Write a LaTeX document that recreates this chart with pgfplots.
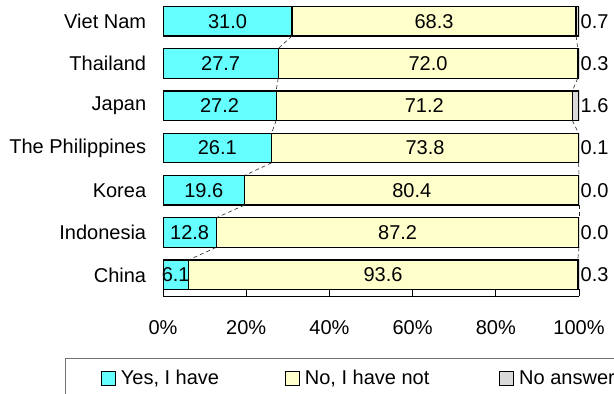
\documentclass[border=0pt]{standalone}
\usepackage{fontspec}
\setmainfont{Liberation Sans}
\usepackage{pgfplots}
\usepackage{pgfplotstable}
\pgfplotsset{compat=1.18}

\definecolor{yesfill}{RGB}{102,255,255}
\definecolor{nofill}{RGB}{255,255,204}
\definecolor{nafill}{RGB}{217,217,217}

% Share of respondents per country (percent); idx 0 is the bottom bar
\pgfplotstableread{
idx yes  no   na
0   6.1  93.6 0.3
1   12.8 87.2 0.0
2   19.6 80.4 0.0
3   26.1 73.8 0.1
4   27.2 71.2 1.6
5   27.7 72.0 0.3
6   31.0 68.3 0.7
}\survey

\pgfplotsset{
  box legend/.style={legend image code/.code={%
    \draw[##1, line width=0.8bp] (0bp,-7bp) rectangle (14bp,7bp);}},
  series line/.style={black!85, line width=0.6bp, dash pattern=on 4bp off 3bp},
  frame/.style={at={(163bp,98bp)}, anchor=south west, scale only axis,
    width=416bp, height=296bp, xmin=0, xmax=100, ymin=-0.5, ymax=6.5},
}

\begin{document}
\fontsize{20bp}{24bp}\selectfont
\begin{tikzpicture}
\begin{axis}[
  frame,
  xbar stacked, bar width=0.7,
  axis x line*=bottom, axis y line*=left,
  y axis line style={draw=none},
  ytick={0,...,6},
  yticklabels={China,Indonesia,Korea,The Philippines,Japan,Thailand,Viet Nam},
  ytick style={draw=none},
  yticklabel style={xshift=-10bp},
  xtick={0,20,...,100},
  xticklabel={\pgfmathprintnumber{\tick}\%},
  xticklabel style={yshift=-18bp},
  tick align=inside, major tick length=7bp,
  x axis line style={line width=0.8bp, black},
  xtick style={line width=0.8bp, black},
  /pgf/number format/assume math mode=true,
  legend columns=3,
  legend style={at={(-0.2356,-0.2095)}, anchor=north west,
    draw=black!55, line width=0.8bp, inner xsep=35.7bp, inner ysep=11.5bp,
    nodes={inner sep=0pt},
    /tikz/every odd column/.append style={column sep=5bp},
    /tikz/column 2/.style={column sep=66bp},
    /tikz/column 4/.style={column sep=70bp}},
  every axis plot/.append style={draw=black, line width=1.2bp},
]
\addplot[fill=yesfill, box legend] table[x=yes, y=idx] {\survey};
\addlegendentry{Yes, I have}
\addplot[fill=nofill, box legend] table[x=no, y=idx] {\survey};
\addlegendentry{No, I have not}
\addplot[fill=nafill, box legend] table[x=na, y=idx] {\survey};
\addlegendentry{No answer}
\end{axis}

% series lines and value labels
\begin{axis}[frame, hide axis, clip=false]
\addplot[series line] coordinates {(31.0,5.65) (27.7,5.35)};
\addplot[series line] coordinates {(27.7,4.65) (27.2,4.35)};
\addplot[series line] coordinates {(27.2,3.65) (26.1,3.35)};
\addplot[series line] coordinates {(26.1,2.65) (19.6,2.35)};
\addplot[series line] coordinates {(19.6,1.65) (12.8,1.35)};
\addplot[series line] coordinates {(12.8,0.65) (6.1,0.35)};
\addplot[series line] coordinates {(99.3,5.65) (99.7,5.35)};
\addplot[series line] coordinates {(99.7,4.65) (98.4,4.35)};
\addplot[series line] coordinates {(98.4,3.65) (99.9,3.35)};
\addplot[series line] coordinates {(99.9,2.65) (100.0,2.35)};
\addplot[series line] coordinates {(100.0,1.65) (100.0,1.35)};
\addplot[series line] coordinates {(100.0,0.65) (99.7,0.35)};

\addplot[draw=none, nodes near coords, point meta=explicit symbolic,
  nodes near coords style={anchor=center}]
  table[x expr=\thisrow{yes}/2, y=idx, meta=yes] {\survey};
\addplot[draw=none, nodes near coords, point meta=explicit symbolic,
  nodes near coords style={anchor=center}]
  table[x expr=\thisrow{yes}+\thisrow{no}/2, y=idx, meta=no] {\survey};
\addplot[draw=none, nodes near coords, point meta=explicit symbolic,
  nodes near coords style={anchor=west, inner sep=1.5bp}]
  table[x expr=100, y=idx, meta=na] {\survey};
\end{axis}
\pgfresetboundingbox
\useasboundingbox (0,0) rectangle (614bp,394bp);
\end{tikzpicture}
\end{document}
